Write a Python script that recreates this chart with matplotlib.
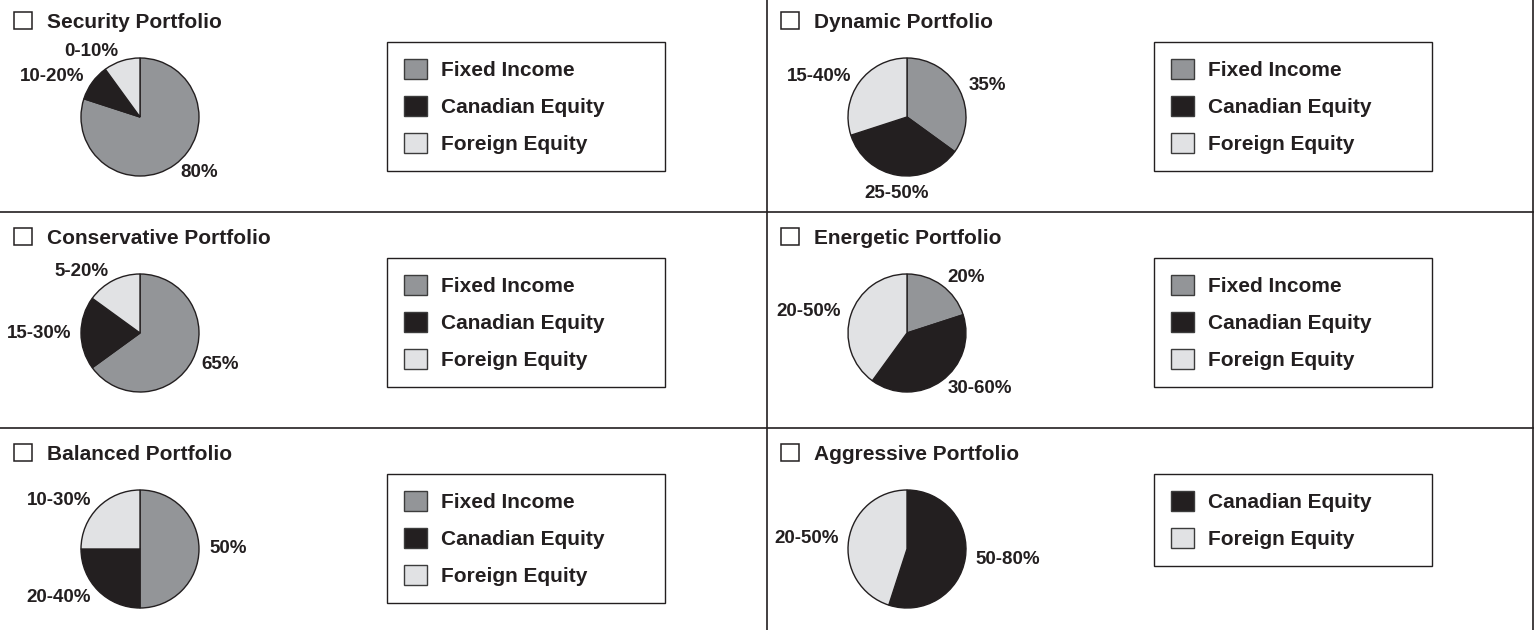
import matplotlib
matplotlib.use("Agg")
import matplotlib.pyplot as plt
from matplotlib.patches import Patch, Rectangle
from matplotlib.lines import Line2D
import numpy as np

plt.rcParams['font.family'] = ['Liberation Sans', 'DejaVu Sans']
plt.rcParams['font.weight'] = 'bold'

INK = '#231f20'

# asset classes and their fills
asset_classes = ["Fixed Income", "Canadian Equity", "Foreign Equity"]
asset_colors = ["#939598", "#231f20", "#e1e2e4"]

# slice sizes in order Fixed Income, Canadian Equity, Foreign Equity
security_values = [80, 10, 10]
security_labels = ["80%", "10-20%", "0-10%"]
conservative_values = [65, 20, 15]
conservative_labels = ["65%", "15-30%", "5-20%"]
balanced_values = [50, 25, 25]
balanced_labels = ["50%", "20-40%", "10-30%"]
dynamic_values = [35, 35, 30]
dynamic_labels = ["35%", "25-50%", "15-40%"]
energetic_values = [20, 40, 40]
energetic_labels = ["20%", "30-60%", "20-50%"]
aggressive_values = [0, 55, 45]   # no fixed income in this one
aggressive_labels = ["", "50-80%", "20-50%"]

panels = [
    ("Security Portfolio", security_values, security_labels),
    ("Conservative Portfolio", conservative_values, conservative_labels),
    ("Balanced Portfolio", balanced_values, balanced_labels),
    ("Dynamic Portfolio", dynamic_values, dynamic_labels),
    ("Energetic Portfolio", energetic_values, energetic_labels),
    ("Aggressive Portfolio", aggressive_values, aggressive_labels),
]

W, H = 1536, 630
fig = plt.figure(figsize=(W / 100, H / 100), dpi=100)
fig.patch.set_facecolor('white')


def fx(x):
    return x / W


def fy(y):
    return 1 - y / H


# grid lines between the panels
for y in (212, 428):
    fig.add_artist(Line2D([0, fx(1533)], [fy(y), fy(y)], transform=fig.transFigure,
                          color=INK, lw=1.2))
for x in (767, 1533):
    fig.add_artist(Line2D([fx(x), fx(x)], [0, 1], transform=fig.transFigure,
                          color=INK, lw=1.2))

R_PX = 59      # pie radius in pixels
HALF = 100     # half size of the pie axes in pixels

for i, (title, values, labels) in enumerate(panels):
    col, row = divmod(i, 3)
    x0 = 767 * col
    base = 28 + 216 * row

    # checkbox + title
    fig.add_artist(Rectangle((fx(x0 + 14), fy(base + 1)), 18 / W, 17 / H,
                             transform=fig.transFigure, facecolor='white',
                             edgecolor=INK, lw=1.1))
    fig.text(fx(x0 + 47), fy(base), title, fontsize=15, color=INK,
             ha='left', va='baseline')

    # pie
    keep = [k for k, v in enumerate(values) if v > 0]
    vals = [values[k] for k in keep]
    cols = [asset_colors[k] for k in keep]
    labs = [labels[k] for k in keep]

    cx, cy = x0 + 140, base + 89
    ax = fig.add_axes([fx(cx - HALF), fy(cy + HALF), 2 * HALF / W, 2 * HALF / H])
    wedges, texts = ax.pie(vals, colors=cols, labels=labs, startangle=90,
                           counterclock=False, labeldistance=1.17,
                           wedgeprops=dict(edgecolor=INK, linewidth=1.0),
                           textprops=dict(fontsize=13.5, color=INK, fontweight='bold'))
    for t in texts:
        tx, ty = t.get_position()
        ang = np.arctan2(ty, tx)
        if abs(np.cos(ang)) < 0.25:
            t.set_ha('center')
            t.set_va('top' if ty < 0 else 'bottom')
    lim = HALF / R_PX
    ax.set_xlim(-lim, lim)
    ax.set_ylim(-lim, lim)
    ax.set_aspect('equal')
    ax.axis('off')

    # legend box
    handles = [Patch(facecolor=asset_colors[k], edgecolor='#3c3c3c', linewidth=1.0)
               for k in keep]
    names = [asset_classes[k] for k in keep]
    lx = x0 + 387
    top = base + 14
    leg = fig.legend(handles, names, loc='upper left',
                     bbox_to_anchor=(fx(lx), fy(top) - 0.2, 278 / W, 0.2),
                     mode='expand', borderaxespad=0, fancybox=False, shadow=False,
                     framealpha=1, edgecolor=INK,
                     prop=dict(size=15, weight='bold'),
                     handlelength=1.1, handleheight=1.1, handletextpad=0.7,
                     labelspacing=0.78, borderpad=0.8)
    leg.get_frame().set_linewidth(1.0)
    for t in leg.get_texts():
        t.set_color(INK)

fig.savefig('out.png', dpi=100, facecolor='white')
